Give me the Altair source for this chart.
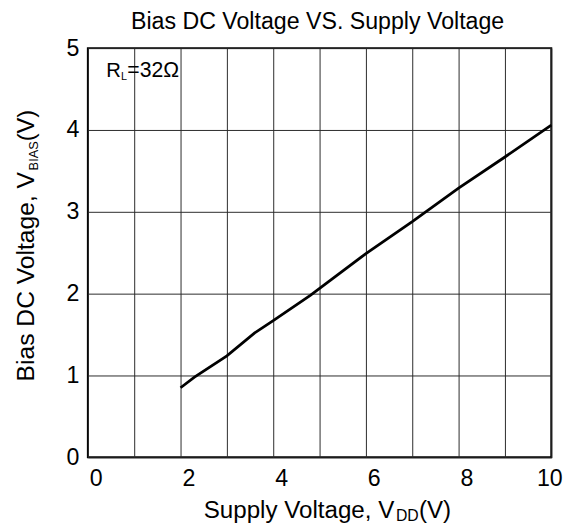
import altair as alt
import pandas as pd

# ---- data ----
supply_v = [2.0, 2.3, 3.0, 3.6, 4.0, 4.8, 6.0, 7.0, 8.0, 9.0, 10.0]
bias_v = [0.85, 0.98, 1.24, 1.52, 1.67, 1.98, 2.49, 2.88, 3.29, 3.67, 4.06]
x_ticks = list(range(0, 11))
y_ticks = list(range(0, 6))
chart_title = ["Bias DC Voltage VS. Supply Voltage"]
x_title_parts = ["Supply Voltage, V", "DD", "(V)"]
y_title_parts = ["Bias DC Voltage, V", "BIAS", "(V)"]
note_parts = ["R", "L", "=32Ω"]

FONT = "Liberation Sans"
W, H = 470, 415

df = pd.DataFrame({"vdd": supply_v, "vbias": bias_v})

x_enc = alt.X(
    "vdd:Q",
    scale=alt.Scale(domain=[0, 10], nice=False, zero=False),
    axis=alt.Axis(
        values=x_ticks,
        labelExpr="datum.value % 2 == 0 ? datum.label : ''",
        title=None, grid=True, gridColor="#2a2a2a", gridWidth=1,
        ticks=False, domain=False, labelFontSize=23.5, labelFont=FONT,
        labelColor="black", labelPadding=10, labelFlush=False,
        labelOverlap=False,
        labelOffset=alt.condition("datum.value == 10", alt.value(-2), alt.value(8)),
    ),
)
y_enc = alt.Y(
    "vbias:Q",
    scale=alt.Scale(domain=[0, 5], nice=False),
    axis=alt.Axis(
        values=y_ticks, title=None, grid=True, gridColor="#2a2a2a", gridWidth=1,
        ticks=False, domain=False, labelFontSize=23.5, labelFont=FONT,
        labelColor="black", labelPadding=9, labelOverlap=False, labelFlush=False,
    ),
)

line = alt.Chart(df).mark_line(color="black", strokeWidth=2.8).encode(x=x_enc, y=y_enc)


def txt(s, x, y, size, angle=0, align="left"):
    d = pd.DataFrame({"t": [s]})
    return alt.Chart(d).mark_text(
        font=FONT, fontSize=size, color="black", align=align,
        baseline="alphabetic", angle=angle,
    ).encode(x=alt.value(x), y=alt.value(y), text="t:N")


texts = [
    txt(chart_title[0], 233, -19, 23.5, align="center"),
    # x axis title with subscript
    txt(x_title_parts[0], 117.5, 477, 24.5),
    txt(x_title_parts[1], 312.5, 480, 16),
    txt(x_title_parts[2], 335.8, 477, 24.5),
    # y axis title with subscript (rotated)
    txt(y_title_parts[0], -55, 338, 25, angle=270),
    txt(y_title_parts[1], -51, 124, 13, angle=270),
    txt(y_title_parts[2], -55, 94.5, 24, angle=270),
    # annotation
    txt(note_parts[0], 18.7, 29, 20.5),
    txt(note_parts[1], 33.6, 32, 11),
    txt(note_parts[2], 40, 29, 21.5),
]

chart = alt.layer(line, *texts).properties(
    width=W, height=H,
    autosize=alt.AutoSizeParams(type="none"),
    padding={"left": 81, "top": 37, "right": 20, "bottom": 70},
    background="white",
).configure_view(stroke="black", strokeWidth=2)

chart.save("out.html", embed_options={"renderer": "svg", "actions": False})
